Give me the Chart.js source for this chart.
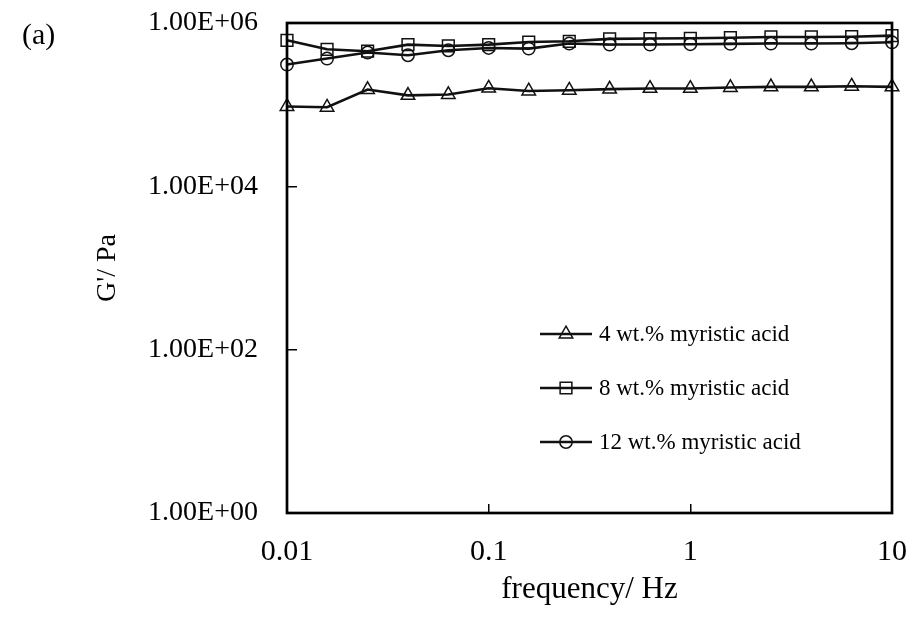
<!DOCTYPE html>
<html>
<head>
<meta charset="utf-8">
<title>G' vs frequency</title>
<script src="https://cdn.jsdelivr.net/npm/chart.js@4.4.1/dist/chart.umd.min.js"></script>
<style>
  html, body { margin: 0; padding: 0; background: #fff; }
  #wrap { width: 912px; height: 618px; }
</style>
</head>
<body>
<div id="wrap"><canvas id="chart" width="912" height="618"></canvas></div>
<script>
// frequency sweep, 5 points per decade
const frequency = [0.01, 0.0158, 0.0251, 0.0398, 0.0631, 0.1, 0.158, 0.251, 0.398, 0.631, 1, 1.58, 2.51, 3.98, 6.31, 10];

// G' in Pa
const gMyristic4 = [9.5e4, 9.3e4, 1.53e5, 1.30e5, 1.33e5, 1.59e5, 1.47e5, 1.50e5, 1.55e5, 1.58e5, 1.58e5, 1.62e5, 1.65e5, 1.65e5, 1.68e5, 1.65e5];
const gMyristic8 = [6.14e5, 4.76e5, 4.51e5, 5.44e5, 5.23e5, 5.44e5, 5.85e5, 5.97e5, 6.40e5, 6.45e5, 6.50e5, 6.60e5, 6.75e5, 6.75e5, 6.80e5, 7.00e5];
const gMyristic12 = [3.10e5, 3.67e5, 4.35e5, 4.03e5, 4.64e5, 4.95e5, 4.86e5, 5.60e5, 5.45e5, 5.45e5, 5.50e5, 5.55e5, 5.60e5, 5.60e5, 5.65e5, 5.80e5];

const seriesLabels = ['4 wt.% myristic acid', '8 wt.% myristic acid', '12 wt.% myristic acid'];
const seriesMarkers = ['triangle', 'rect', 'circle'];
const markerRadius = [7.8, 8.3, 6.2];

const xTicks = [0.01, 0.1, 1, 10];
const xTickLabels = ['0.01', '0.1', '1', '10'];
const yTicks = [1, 100, 10000, 1000000];
const yTickLabels = ['1.00E+00', '1.00E+02', '1.00E+04', '1.00E+06'];

const serif = '"Liberation Serif", "Times New Roman", serif';

function toPoints(values) {
  return frequency.map((f, i) => ({ x: f, y: values[i] }));
}

function makeDataset(label, values, marker, radius) {
  return {
    label: label,
    data: toPoints(values),
    borderColor: '#111',
    borderWidth: 2.6,
    backgroundColor: 'rgba(0,0,0,0)',
    pointStyle: marker,
    pointRadius: radius,
    pointBorderWidth: 1.5,
    pointBorderColor: '#111',
    pointBackgroundColor: 'rgba(0,0,0,0)',
    tension: 0,
    clip: false
  };
}

// no extra room for overhanging tick labels, the layout padding decides the plot box
function noLabelPadding(axis) {
  axis.paddingTop = 0;
  axis.paddingBottom = 0;
  axis.paddingLeft = 0;
  axis.paddingRight = 0;
}

// box round the plot area + the "(a)" panel tag
const framePlugin = {
  id: 'frame',
  afterDraw(chart) {
    const { ctx, chartArea } = chart;
    ctx.save();
    ctx.strokeStyle = '#000';
    ctx.lineWidth = 2.7;
    ctx.strokeRect(chartArea.left, chartArea.top, chartArea.right - chartArea.left, chartArea.bottom - chartArea.top);
    ctx.fillStyle = '#000';
    ctx.font = '30px ' + serif;
    ctx.textBaseline = 'middle';
    ctx.fillText('(a)', 22, 36);
    ctx.restore();
  }
};

// legend with a short line through each marker, inside the plot
const lineLegendPlugin = {
  id: 'lineLegend',
  afterDraw(chart) {
    const { ctx, chartArea } = chart;
    const x0 = chartArea.left + 253;
    const x1 = x0 + 52;
    ctx.save();
    chart.data.datasets.forEach((ds, i) => {
      const y = chartArea.top + 311 + i * 54;
      ctx.strokeStyle = '#111';
      ctx.lineWidth = 2.4;
      ctx.beginPath();
      ctx.moveTo(x0, y);
      ctx.lineTo(x1, y);
      ctx.stroke();
      ctx.lineWidth = 1.5;
      ctx.fillStyle = 'rgba(0,0,0,0)';
      Chart.helpers.drawPoint(ctx, { pointStyle: ds.pointStyle, radius: ds.pointRadius, rotation: 0, borderWidth: 1.5 }, (x0 + x1) / 2, y);
      ctx.fillStyle = '#000';
      ctx.font = '23px ' + serif;
      ctx.textBaseline = 'middle';
      ctx.fillText(ds.label, x1 + 7, y + 1);
    });
    ctx.restore();
  }
};

new Chart(document.getElementById('chart'), {
  type: 'line',
  data: {
    datasets: [
      makeDataset(seriesLabels[0], gMyristic4, seriesMarkers[0], markerRadius[0]),
      makeDataset(seriesLabels[1], gMyristic8, seriesMarkers[1], markerRadius[1]),
      makeDataset(seriesLabels[2], gMyristic12, seriesMarkers[2], markerRadius[2])
    ]
  },
  options: {
    responsive: false,
    animation: false,
    layout: { padding: { left: 87, right: 20, top: 23, bottom: 8 } },
    plugins: {
      legend: { display: false },
      tooltip: { enabled: false }
    },
    scales: {
      x: {
        type: 'logarithmic',
        min: 0.01,
        max: 10,
        afterBuildTicks: axis => { axis.ticks = xTicks.map(v => ({ value: v })); },
        afterFit: axis => { axis.height = 97; noLabelPadding(axis); },
        border: { display: false },
        grid: { drawOnChartArea: false, drawTicks: true, tickLength: -9, color: '#000', lineWidth: 1.5 },
        ticks: {
          autoSkip: false,
          maxRotation: 0,
          padding: 30,
          color: '#000',
          font: { family: serif, size: 30 },
          callback: (v, i) => xTickLabels[i]
        },
        title: {
          display: true,
          text: 'frequency/ Hz',
          color: '#000',
          font: { family: serif, size: 31 },
          padding: { top: 4, bottom: 2 }
        }
      },
      y: {
        type: 'logarithmic',
        min: 1,
        max: 1000000,
        afterBuildTicks: axis => { axis.ticks = yTicks.map(v => ({ value: v })); },
        afterFit: axis => { axis.width = 200; noLabelPadding(axis); },
        border: { display: false },
        grid: { drawOnChartArea: false, drawTicks: true, tickLength: -10, color: '#000', lineWidth: 1.5 },
        ticks: {
          autoSkip: false,
          padding: 39,
          color: '#000',
          font: { family: serif, size: 28 },
          callback: (v, i) => yTickLabels[i]
        },
        title: {
          display: true,
          text: "G'/ Pa",
          color: '#000',
          font: { family: serif, size: 28 },
          padding: { top: 4, bottom: 4 }
        }
      }
    }
  },
  plugins: [framePlugin, lineLegendPlugin]
});
</script>
</body>
</html>
